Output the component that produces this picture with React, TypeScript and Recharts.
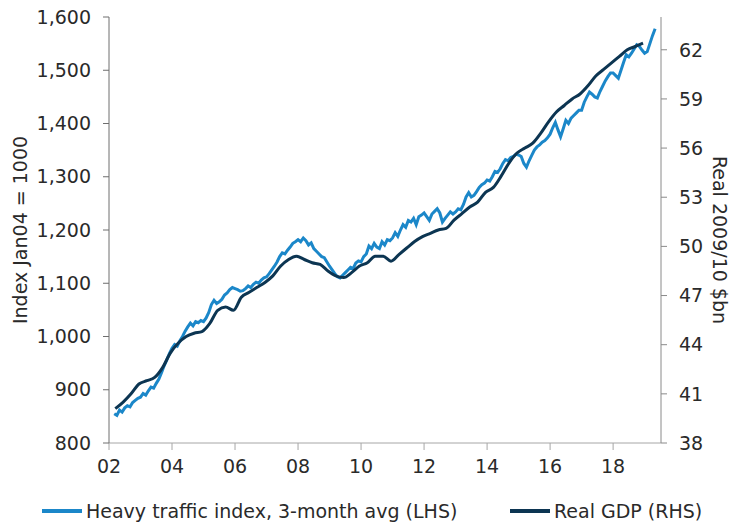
import React from "react";
import { LineChart, Line, XAxis, YAxis } from "recharts";

// heavy traffic index, 3-month avg, monthly from Mar 2002 (Jan04 = 1000)
const trafficStart = 2002 + 2 / 12;
const traffic = [
  855, 852, 862, 858, 866, 870, 868, 876, 880, 884,
  886, 893, 890, 898, 905, 903, 912, 920, 932, 945, 956, 968,
  978, 985, 982, 992, 1000, 1010, 1018, 1025, 1020, 1028, 1026, 1030,
  1028, 1035, 1045, 1060, 1068, 1062, 1065, 1070, 1078, 1082, 1088, 1092,
  1090, 1088, 1085, 1086, 1090, 1095, 1092, 1098, 1102, 1100, 1106, 1110,
  1112, 1118, 1125, 1132, 1140, 1150, 1157, 1155, 1162, 1168, 1175, 1178,
  1182, 1178, 1185, 1180, 1172, 1176, 1165, 1160, 1155, 1150, 1148, 1140,
  1132, 1125, 1118, 1112, 1110, 1115, 1120, 1125, 1130, 1128, 1138, 1142,
  1140, 1150, 1155, 1170, 1165, 1175, 1168, 1165, 1178, 1172, 1182, 1180,
  1185, 1195, 1188, 1200, 1210, 1205, 1218, 1215, 1222, 1210, 1225, 1228,
  1232, 1225, 1218, 1230, 1235, 1240, 1232, 1215, 1222, 1228, 1234, 1230,
  1234, 1240, 1238, 1248, 1262, 1270, 1262, 1265, 1272, 1280, 1285, 1288,
  1294, 1292, 1300, 1310, 1308, 1315, 1325, 1332, 1330, 1336, 1338, 1342,
  1341, 1338, 1325, 1318, 1330, 1340, 1350, 1356, 1360, 1365, 1368, 1373,
  1380, 1392, 1402, 1388, 1375, 1390, 1406, 1400, 1410, 1415, 1420, 1425,
  1425, 1440, 1450, 1459, 1455, 1450, 1448, 1460, 1470, 1480, 1488, 1495,
  1495, 1490, 1485, 1500, 1515, 1529, 1525, 1532, 1540, 1548, 1545, 1538,
  1532, 1535, 1550, 1565, 1578,
];

// real GDP, quarterly, 2009/10 $bn
const gdpStart = 2002.2;
const gdp = [
  40.1, 40.5, 41.0, 41.6,
  41.8, 42.0, 42.6, 43.5,
  44.1, 44.5, 44.7, 44.8,
  45.3, 46.1, 46.3, 46.1,
  46.9, 47.2, 47.5, 47.8,
  48.2, 48.8, 49.2, 49.4,
  49.2, 49.0, 48.9, 48.5,
  48.2, 48.1, 48.4, 48.8,
  49.0, 49.4, 49.4, 49.1,
  49.5, 49.9, 50.3, 50.6,
  50.8, 51.0, 51.1, 51.6,
  52.0, 52.4, 52.7, 53.3,
  53.6, 54.3, 55.1, 55.7,
  56.0, 56.3, 56.9, 57.6,
  58.2, 58.6, 59.0, 59.3,
  59.8, 60.4, 60.8, 61.2,
  61.6, 62.0, 62.2, 62.4,
];

const xTicks = [2002, 2004, 2006, 2008, 2010, 2012, 2014, 2016, 2018];
const leftTicks = [800, 900, 1000, 1100, 1200, 1300, 1400, 1500, 1600];
const rightTicks = [38, 41, 44, 47, 50, 53, 56, 59, 62];

const trafficData = traffic.map((v, i) => ({ x: trafficStart + i / 12, traffic: v }));
const gdpData = gdp.map((v, i) => ({ x: gdpStart + i * 0.25, gdp: v }));

const LIGHT = "#1b87c9";
const DARK = "#0c3552";
const FONT = "'DejaVu Sans', Verdana, sans-serif";
const tickStyle = { fontSize: 19, fill: "#2a2a2a", fontFamily: FONT };

const LeftLabel = (props: any) => {
  const { viewBox } = props;
  const cx = viewBox.x + 20;
  const cy = viewBox.y + viewBox.height / 2;
  return (
    <text
      x={cx}
      y={cy}
      transform={`rotate(-90, ${cx}, ${cy})`}
      textAnchor="middle"
      dominantBaseline="central"
      style={{ fontSize: 19, fill: "#2a2a2a", fontFamily: FONT }}
    >
      Index Jan04 = 1000
    </text>
  );
};

const RightLabel = (props: any) => {
  const { viewBox } = props;
  const cx = viewBox.x + 59;
  const cy = viewBox.y + viewBox.height / 2 + 10;
  return (
    <text
      x={cx}
      y={cy}
      transform={`rotate(90, ${cx}, ${cy})`}
      textAnchor="middle"
      dominantBaseline="central"
      style={{ fontSize: 19, fill: "#2a2a2a", fontFamily: FONT }}
    >
      Real 2009/10 $bn
    </text>
  );
};

const LegendItem = ({ color, text, left }: { color: string; text: string; left: number }) => (
  <div style={{ position: "absolute", left, top: 500, display: "flex", alignItems: "center" }}>
    <div style={{ width: 40, height: 4, background: color, marginRight: 4 }} />
    <span style={{ fontSize: 19, color: "#2a2a2a", fontFamily: FONT, whiteSpace: "nowrap" }}>{text}</span>
  </div>
);

export default function App() {
  return (
    <div style={{ position: "absolute", left: 0, top: 0, width: 733, height: 530, background: "#fff" }}>
      <LineChart width={733} height={530} margin={{ top: 17, right: 0, bottom: 47, left: 0 }}>
        <XAxis
          dataKey="x"
          type="number"
          domain={[2002, 2019.52]}
          ticks={xTicks}
          tickFormatter={(v: number) => String(v).slice(2)}
          allowDuplicatedCategory={false}
          height={40}
          tick={tickStyle}
          tickSize={7}
          tickMargin={10}
          stroke="#a6a6a6"
          tickLine={{ stroke: "#a6a6a6" }}
          interval={0}
        />
        <YAxis
          yAxisId="left"
          orientation="left"
          domain={[800, 1600]}
          ticks={leftTicks}
          tickFormatter={(v: number) => v.toLocaleString("en-US")}
          width={109}
          tick={tickStyle}
          tickSize={6}
          tickMargin={12}
          stroke="#6e6e6e"
          interval={0}
          label={<LeftLabel />}
        />
        <YAxis
          yAxisId="right"
          orientation="right"
          domain={[38, 64]}
          ticks={rightTicks}
          width={72}
          tick={tickStyle}
          tickSize={6}
          tickMargin={12}
          stroke="#8a8a8a"
          interval={0}
          label={<RightLabel />}
        />
        <Line
          yAxisId="left"
          data={trafficData}
          dataKey="traffic"
          stroke={LIGHT}
          strokeWidth={3}
          dot={false}
          type="linear"
          isAnimationActive={false}
        />
        <Line
          yAxisId="right"
          data={gdpData}
          dataKey="gdp"
          stroke={DARK}
          strokeWidth={3}
          dot={false}
          type="monotone"
          isAnimationActive={false}
        />
      </LineChart>
      <LegendItem color={LIGHT} text="Heavy traffic index, 3-month avg (LHS)" left={42} />
      <LegendItem color={DARK} text="Real GDP (RHS)" left={510} />
    </div>
  );
}
